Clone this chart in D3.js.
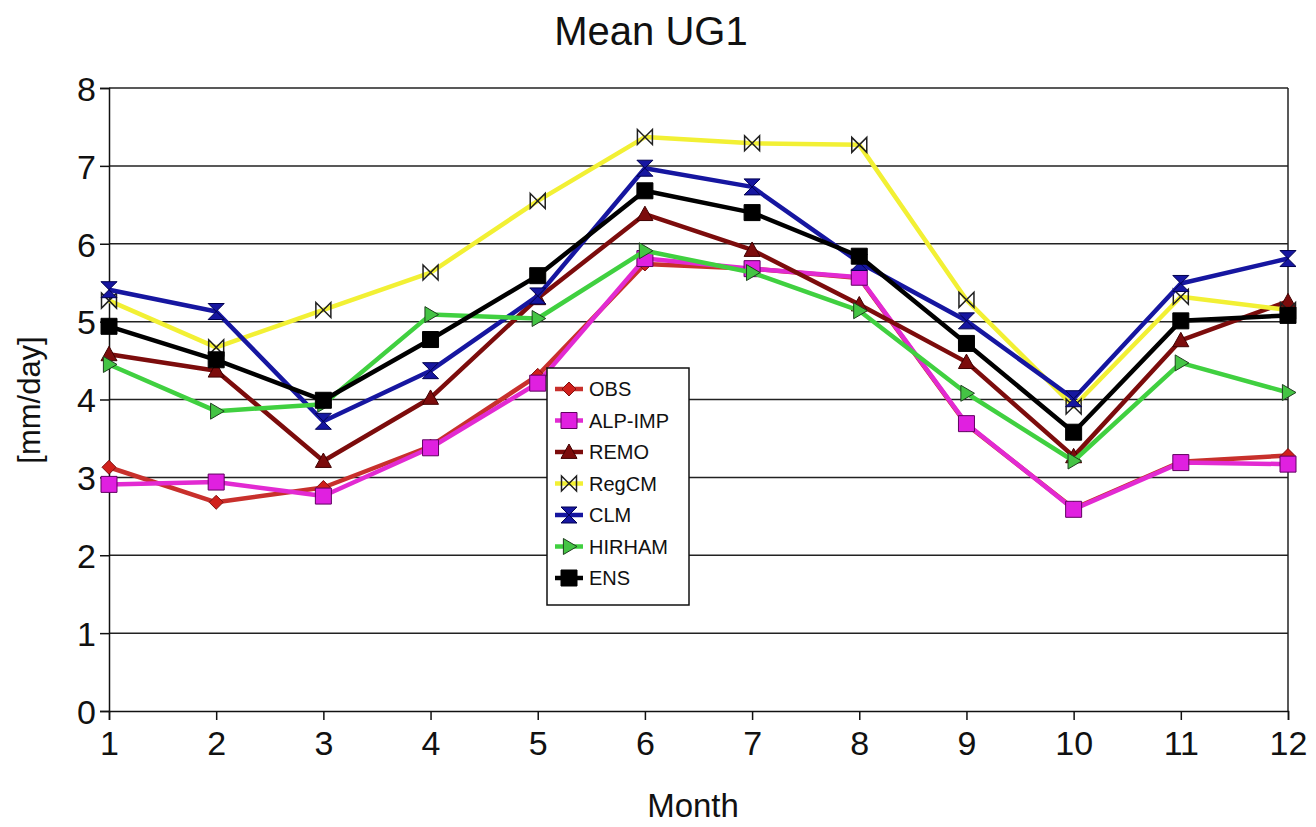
<!DOCTYPE html>
<html lang="en">
<head>
    <meta charset="UTF-8">
    <title>Mean UG1</title>
    <script src="https://d3js.org/d3.v7.min.js"></script>
    <style>
        body { margin: 0; background: #fff; overflow: hidden; }
        svg { display: block; font-family: "Liberation Sans", Arial, sans-serif; }
    </style>
</head>
<body>
    <script>
    // data
    const months = [1, 2, 3, 4, 5, 6, 7, 8, 9, 10, 11, 12];
    const yTicks = [0, 1, 2, 3, 4, 5, 6, 7, 8];

    const obs    = [3.13, 2.68, 2.87, 3.40, 4.31, 5.74, 5.68, 5.56, 3.68, 2.60, 3.20, 3.28];
    const alpImp = [2.91, 2.94, 2.76, 3.38, 4.21, 5.81, 5.68, 5.57, 3.69, 2.59, 3.19, 3.17];
    const remo   = [4.58, 4.37, 3.21, 4.02, 5.30, 6.38, 5.92, 5.22, 4.48, 3.27, 4.76, 5.26];
    const regcm  = [5.27, 4.67, 5.15, 5.63, 6.55, 7.37, 7.29, 7.27, 5.28, 3.91, 5.32, 5.15];
    const clm    = [5.41, 5.13, 3.72, 4.37, 5.33, 6.97, 6.73, 5.76, 5.01, 4.01, 5.49, 5.81];
    const hirham = [4.45, 3.85, 3.94, 5.09, 5.04, 5.91, 5.63, 5.14, 4.08, 3.21, 4.47, 4.09];
    const ens    = [4.94, 4.51, 3.99, 4.77, 5.59, 6.68, 6.40, 5.84, 4.72, 3.58, 5.01, 5.08];

    const series = [
      { name: "OBS",     values: obs,    line: "#c8302c", fill: "#d0201c", stroke: "#801010", shape: "diamond" },
      { name: "ALP-IMP", values: alpImp, line: "#e22ad2", fill: "#e020e0", stroke: "#600060", shape: "square" },
      { name: "REMO",    values: remo,   line: "#7c0c0c", fill: "#7c0c0c", stroke: "#400000", shape: "triangle" },
      { name: "RegCM",   values: regcm,  line: "#f2f034", fill: "#f4f080", stroke: "#202020", shape: "bowtie" },
      { name: "CLM",     values: clm,    line: "#1616a0", fill: "#1616a0", stroke: "#000050", shape: "hourglass" },
      { name: "HIRHAM",  values: hirham, line: "#40d040", fill: "#44c444", stroke: "#204020", shape: "right" },
      { name: "ENS",     values: ens,    line: "#000000", fill: "#000000", stroke: "#000000", shape: "square" }
    ];

    const width = 1316, height = 827;
    const margin = { top: 88, right: 28, bottom: 116, left: 109 };

    const svg = d3.select("body").append("svg")
      .attr("width", width)
      .attr("height", height);

    const x = d3.scaleLinear().domain([1, 12]).range([margin.left, width - margin.right]);
    const y = d3.scaleLinear().domain([0, 8]).range([height - margin.bottom, margin.top]);

    // grid lines
    svg.append("g")
      .selectAll("line")
      .data(yTicks.filter(d => d > 0))
      .join("line")
      .attr("x1", x(1)).attr("x2", x(12))
      .attr("y1", d => y(d)).attr("y2", d => y(d))
      .attr("stroke", "#222")
      .attr("stroke-width", 1.5);

    // right border
    svg.append("line")
      .attr("x1", x(12)).attr("x2", x(12))
      .attr("y1", y(0)).attr("y2", y(8))
      .attr("stroke", "#222").attr("stroke-width", 1.5);

    const xAxis = svg.append("g")
      .attr("transform", `translate(0,${y(0)})`)
      .call(d3.axisBottom(x).tickValues(months).tickFormat(d3.format("d")).tickSize(9).tickPadding(11));

    const yAxis = svg.append("g")
      .attr("transform", `translate(${x(1)},0)`)
      .call(d3.axisLeft(y).tickValues(yTicks).tickSize(9).tickPadding(4));

    [xAxis, yAxis].forEach(g => {
      g.select(".domain").attr("stroke", "#111").attr("stroke-width", 1.5);
      g.selectAll(".tick line").attr("stroke", "#111").attr("stroke-width", 1.5);
      g.selectAll(".tick text")
        .attr("fill", "#111")
        .attr("font-size", 34)
        .attr("font-family", "'Liberation Sans', Arial, sans-serif");
    });
    yAxis.selectAll(".tick text").attr("dy", "0.36em");

    // titles
    svg.append("text")
      .attr("x", 651).attr("y", 45)
      .attr("text-anchor", "middle")
      .attr("font-size", 40)
      .attr("fill", "#111")
      .text("Mean UG1");

    svg.append("text")
      .attr("x", 693).attr("y", 817)
      .attr("text-anchor", "middle")
      .attr("font-size", 33)
      .attr("fill", "#111")
      .text("Month");

    svg.append("text")
      .attr("transform", "translate(40,400) rotate(-90)")
      .attr("text-anchor", "middle")
      .attr("font-size", 31)
      .attr("fill", "#111")
      .text("[mm/day]");

    // marker shapes
    function markerPath(shape, s) {
      switch (shape) {
        case "diamond": return `M0,${-s}L${s},0L0,${s}L${-s},0Z`;
        case "square": return `M${-s},${-s}H${s}V${s}H${-s}Z`;
        case "triangle": return `M0,${-s}L${s},${s * 0.8}L${-s},${s * 0.8}Z`;
        case "bowtie": return `M${-s},${-s}L${s},${s}L${s},${-s}L${-s},${s}Z`;
        case "hourglass": return `M${-s},${-s}L${s},${-s}L${-s},${s}L${s},${s}Z`;
        case "right": return `M${-s * 0.7},${-s}L${s},0L${-s * 0.7},${s}Z`;
      }
    }
    const markerSize = { diamond: 7, square: 8, triangle: 8, bowtie: 7.5, hourglass: 8, right: 8 };

    const line = d3.line()
      .x((d, i) => x(months[i]))
      .y(d => y(d));

    const plot = svg.append("g");

    series.forEach(s => {
      const g = plot.append("g");
      g.append("path")
        .attr("d", line(s.values))
        .attr("fill", "none")
        .attr("stroke", s.line)
        .attr("stroke-width", 4.5)
        .attr("stroke-linejoin", "round");
      g.selectAll("path.m")
        .data(s.values)
        .join("path")
        .attr("class", "m")
        .attr("transform", (d, i) => `translate(${x(months[i])},${y(d)})`)
        .attr("d", markerPath(s.shape, markerSize[s.shape]))
        .attr("fill", s.shape === "bowtie" ? "none" : s.fill)
        .attr("stroke", s.stroke)
        .attr("stroke-width", s.shape === "bowtie" ? 1.5 : 1);
    });

    // legend
    const legend = svg.append("g").attr("transform", "translate(547,368)");
    legend.append("rect")
      .attr("width", 142).attr("height", 237)
      .attr("fill", "#fff")
      .attr("stroke", "#111")
      .attr("stroke-width", 1.5);

    const item = legend.selectAll("g.item")
      .data(series)
      .join("g")
      .attr("class", "item")
      .attr("transform", (d, i) => `translate(0,${21 + i * 31.5})`);

    item.append("line")
      .attr("x1", 8).attr("x2", 36)
      .attr("stroke", d => d.line)
      .attr("stroke-width", 4.5);

    item.append("path")
      .attr("transform", "translate(22,0)")
      .attr("d", d => markerPath(d.shape, markerSize[d.shape]))
      .attr("fill", d => d.shape === "bowtie" ? "none" : d.fill)
      .attr("stroke", d => d.stroke)
      .attr("stroke-width", d => d.shape === "bowtie" ? 1.5 : 1);

    item.append("text")
      .attr("x", 42)
      .attr("dy", "0.36em")
      .attr("font-size", 20)
      .attr("fill", "#111")
      .text(d => d.name);
    </script>
</body>
</html>
